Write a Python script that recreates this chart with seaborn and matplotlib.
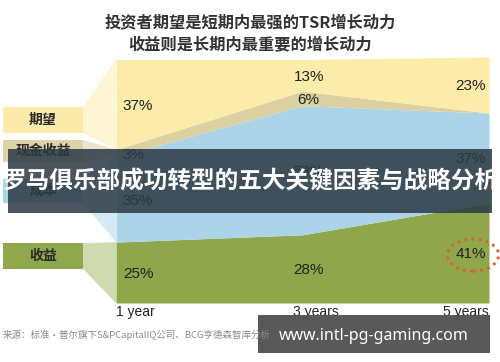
import matplotlib
matplotlib.use("Agg")
import matplotlib.pyplot as plt
import matplotlib.transforms as mtransforms
from matplotlib.patches import Rectangle, Polygon, Ellipse
import numpy as np
import pandas as pd
import seaborn as sns

# data (share of TSR, %)
years = [1, 3, 5]
year_labels = ["1 year", "3 years", "5 years"]
series_names = ["收益", "成本", "现金收益", "期望"]
revenue = [25, 28, 41]
cost = [35, 53, 37]
cash = [3, 6, 0]
expect = [37, 13, 23]

title_lines = ["投资者期望是短期内最强的TSR增长动力", "收益则是长期内最重要的增长动力"]
banner_text = "罗马俱乐部成功转型的五大关键因素与战略分析"
source_text = "来源：标准・普尔旗下S&PCapitalIQ公司、BCG亨德森智库分析"
watermark = "www.intl-pg-gaming.com"

colors = ["#8FA74A", "#ABD4E8", "#DAD0A0", "#FCECAA"]
light = ["#CFDBAF", "#D6EAF5", "#E8E4D0", "#FDF5D4"]
box_colors = ["#8FA84B", "#ABD4E8", "#DCD4A8", "#FBEAA9"]

sns.set_theme(style="white")
plt.rcParams["font.family"] = ["Noto Sans CJK SC", "DejaVu Sans"]
num_font = ["Liberation Sans Narrow", "Liberation Sans", "DejaVu Sans"]

df = pd.DataFrame({"year": years, "收益": revenue, "成本": cost,
                   "现金收益": cash, "期望": expect})
tops = df[series_names].cumsum(axis=1)
bottoms = tops - df[series_names]

fig = plt.figure(figsize=(5, 3.62), dpi=100)
ax = fig.add_axes([0.232, 0.163, 0.746, 0.6795])

for i, name in enumerate(series_names):
    ax.fill_between(df["year"], bottoms[name], tops[name], color=colors[i], lw=0)

ax.set_xlim(1, 5)
ax.set_ylim(0, 101)
ax.set_yticks([])
ax.set_xticks(years)
ax.set_xticklabels(year_labels, fontsize=10, color="#222222", family=num_font)
ax.tick_params(axis="x", length=0, pad=1.5)
tl = ax.get_xticklabels()
tl[0].set_ha("left")
tl[1].set_ha("center")
tl[1].set_transform(tl[1].get_transform() + mtransforms.ScaledTranslation(0.13, 0, fig.dpi_scale_trans))
tl[2].set_ha("right")
sns.despine(ax=ax, left=True, bottom=True)

# percentage labels in the middle of each band
for j, yr in enumerate(years):
    for name in series_names:
        val = df[name][j]
        if val <= 0:
            continue
        mid = bottoms[name][j] + val / 2
        if j == 0:
            dx, ha = 5, "left"
        elif j == 1:
            dx, ha = 4.5, "center"
        else:
            dx, ha = -2, "right"
        ax.annotate(f"{val}%", (yr, mid), xytext=(dx, -1), textcoords="offset points",
                    ha=ha, va="center", fontsize=11, color="#222222", family=num_font)

# dotted ring round the last revenue value
last_mid = bottoms["收益"][2] + revenue[2] / 2
ring = Ellipse((years[-1], last_mid), 0.55, 13.2, fill=False, ec="#D9603C", lw=2,
               ls=(0, (1, 1.6)), clip_on=False,
               transform=ax.transData + mtransforms.ScaledTranslation(-0.16, -0.02, fig.dpi_scale_trans))
ax.add_patch(ring)

# legend boxes on the left, linked to the left edge of each band
bt = mtransforms.blended_transform_factory(fig.transFigure, ax.transData)
box_ranges = [(14, 24.5), (41, 51), (58, 67), (70, 80.5)]
for i, name in enumerate(series_names):
    b0, b1 = box_ranges[i]
    y0, y1 = bottoms[name][0], tops[name][0]
    poly = Polygon([(0.166, b0), (0.166, b1), (0.232, y1), (0.232, y0)], closed=True,
                   transform=bt, color=light[i], lw=0, clip_on=False)
    ax.add_patch(poly)
    ax.add_patch(Rectangle((0.006, b0), 0.16, b1 - b0, transform=bt, color=box_colors[i],
                           lw=0, clip_on=False))
    ax.text(0.086, (b0 + b1) / 2, name, transform=bt, ha="center", va="center",
            fontsize=10, fontweight="bold", color="#2a2a2a")

# titles
fig.text(0.5, 1 - 22.5 / 362, title_lines[0], ha="center", va="center", fontsize=11.7,
         fontweight="bold", color="#333333")
fig.text(0.5, 1 - 45 / 362, title_lines[1], ha="center", va="center", fontsize=11.7,
         fontweight="bold", color="#333333")

# source
fig.text(0.006, 1 - 335 / 362, source_text, ha="left", va="center", fontsize=6.8,
         color="#8a8a8a")

# dark banner over the chart
fig.patches.append(Rectangle((8 / 500, 1 - 213 / 362), 484 / 500, 64 / 362,
                             transform=fig.transFigure, color="#2c3a45", alpha=0.86, lw=0))
fig.text(0.5, 1 - 181 / 362, banner_text, ha="center", va="center", fontsize=17,
         fontweight="bold", color="white")

# watermark
fig.patches.append(Rectangle((258 / 500, 1 - 353 / 362), 232 / 500, 38 / 362,
                             transform=fig.transFigure, color="#505050", alpha=0.95, lw=0))
fig.text(374 / 500, 1 - 336 / 362, watermark, ha="center", va="center", fontsize=11.5,
         fontweight="bold", color="white", family=["Noto Sans", "DejaVu Sans"])

fig.savefig("out.png", dpi=100)
